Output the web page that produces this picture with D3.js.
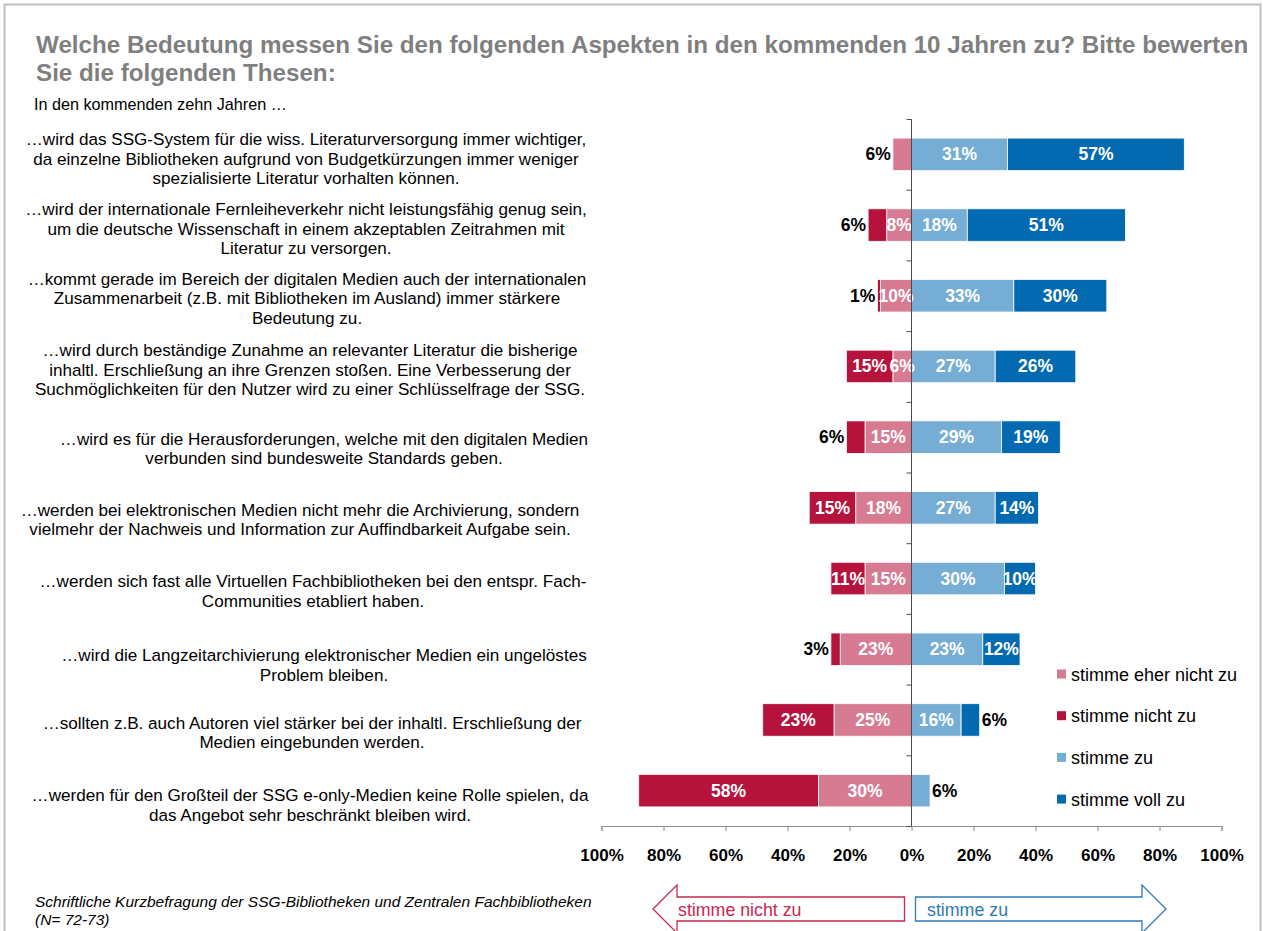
<!DOCTYPE html>
<html>
<head>
<meta charset="utf-8">
<script src="https://cdn.jsdelivr.net/npm/d3@7"></script>
<style>
  html, body { margin: 0; padding: 0; background: #fff; }
  svg { display: block; font-family: "Liberation Sans", Arial, sans-serif; }
</style>
</head>
<body>
<svg id="chart" width="1263" height="931"></svg>
<script>
// Statements, one entry per row (wrapped lines)
const categories = [
  ["…wird das SSG-System für die wiss. Literaturversorgung immer wichtiger,",
   "da einzelne Bibliotheken aufgrund von Budgetkürzungen immer weniger",
   "spezialisierte Literatur vorhalten können."],
  ["…wird der internationale Fernleiheverkehr nicht leistungsfähig genug sein,",
   "um die deutsche Wissenschaft in einem akzeptablen Zeitrahmen mit",
   "Literatur zu versorgen."],
  ["…kommt gerade im Bereich der digitalen Medien auch der internationalen",
   "Zusammenarbeit (z.B. mit Bibliotheken im Ausland) immer stärkere",
   "Bedeutung zu."],
  ["…wird durch beständige Zunahme an relevanter Literatur die bisherige",
   "inhaltl. Erschließung an ihre Grenzen stoßen. Eine Verbesserung der",
   "Suchmöglichkeiten für den Nutzer wird zu einer Schlüsselfrage der SSG."],
  ["…wird es für die Herausforderungen, welche mit den digitalen Medien",
   "verbunden sind bundesweite Standards geben."],
  ["…werden bei elektronischen Medien nicht mehr die Archivierung, sondern",
   "vielmehr der Nachweis und Information zur Auffindbarkeit Aufgabe sein."],
  ["…werden sich fast alle Virtuellen Fachbibliotheken bei den entspr. Fach-",
   "Communities etabliert haben."],
  ["…wird die Langzeitarchivierung elektronischer Medien ein ungelöstes",
   "Problem bleiben."],
  ["…sollten z.B. auch Autoren viel stärker bei der inhaltl. Erschließung der",
   "Medien eingebunden werden."],
  ["…werden für den Großteil der SSG e-only-Medien keine Rolle spielen, da",
   "das Angebot sehr beschränkt bleiben wird."]
];

// Shares in percent
const stimmeNichtZu     = [0, 6, 1, 15, 6, 15, 11, 3, 23, 58];
const stimmeEherNichtZu = [6, 8, 10, 6, 15, 18, 15, 23, 25, 30];
const stimmeZu          = [31, 18, 33, 27, 29, 27, 30, 23, 16, 6];
const stimmeVollZu      = [57, 51, 30, 26, 19, 14, 10, 12, 6, 0];

const xTickValues = [-100, -80, -60, -40, -20, 0, 20, 40, 60, 80, 100];
const legendNames = ["stimme eher nicht zu", "stimme nicht zu", "stimme zu", "stimme voll zu"];

const titleLines = [
  "Welche Bedeutung messen Sie den folgenden Aspekten in den kommenden 10 Jahren zu? Bitte bewerten",
  "Sie die folgenden Thesen:"
];
const subTitle = "In den kommenden zehn Jahren …";
const sourceLines = [
  "Schriftliche Kurzbefragung der SSG-Bibliotheken und Zentralen Fachbibliotheken",
  "(N= 72-73)"
];

const colors = {
  "stimme eher nicht zu": "#D77B93",
  "stimme nicht zu": "#B5133C",
  "stimme zu": "#75ADD5",
  "stimme voll zu": "#036AB1"
};

// text block layout for the statement column (centre x, vertical nudge)
const labelCenterX = [306, 306, 307, 310, 324, 300, 313, 324, 312, 310];
const labelNudge   = [5, 4, 3, 4, 12, 12, 13, 16, 13, 15];

const svg = d3.select("#chart");

// frame
svg.append("rect")
  .attr("x", 4.5).attr("y", 4.5)
  .attr("width", 1256).attr("height", 960)
  .attr("fill", "none").attr("stroke", "#c0c0c0").attr("stroke-width", 2);

// title
svg.append("g").selectAll("text").data(titleLines).join("text")
  .attr("x", 36).attr("y", (d, i) => 53 + i * 28)
  .attr("font-size", 24.2).attr("font-weight", "bold").attr("fill", "#7f7f7f")
  .text(d => d);

svg.append("text").attr("x", 34).attr("y", 110)
  .attr("font-size", 16.2).attr("fill", "#000").text(subTitle);

// scales
const x = d3.scaleLinear().domain([-100, 100]).range([601.5, 1221.5]);
const idx = d3.range(categories.length);
const y = d3.scaleBand().domain(idx).range([119, 826]).paddingInner(0.54).paddingOuter(0.27);
const yEdge = d3.scaleLinear().domain([0, categories.length]).range([119, 826]);

// segments, stacked outward from zero
const rows = idx.map(i => {
  const segs = [];
  const e = stimmeEherNichtZu[i], n = stimmeNichtZu[i];
  const z = stimmeZu[i], v = stimmeVollZu[i];
  segs.push({ key: "stimme eher nicht zu", v: e, x0: -e, x1: 0, outer: n === 0, side: -1 });
  segs.push({ key: "stimme nicht zu", v: n, x0: -(e + n), x1: -e, outer: true, side: -1 });
  segs.push({ key: "stimme zu", v: z, x0: 0, x1: z, outer: v === 0, side: 1 });
  segs.push({ key: "stimme voll zu", v: v, x0: z, x1: z + v, outer: true, side: 1 });
  return { i, segs: segs.filter(s => s.v > 0) };
});

const barG = svg.append("g");
const rowG = barG.selectAll("g.row").data(rows).join("g").attr("class", "row");

rowG.selectAll("rect").data(r => r.segs.map(s => ({ ...s, i: r.i }))).join("rect")
  .attr("x", d => x(d.x0))
  .attr("y", d => y(d.i))
  .attr("width", d => x(d.x1) - x(d.x0))
  .attr("height", y.bandwidth())
  .attr("fill", d => colors[d.key])
  .attr("stroke", "#fff").attr("stroke-width", 0.8);

// value labels: small outermost segments get their label outside the bar
rowG.selectAll("text").data(r => r.segs.map(s => ({ ...s, i: r.i }))).join("text")
  .each(function (d) {
    const t = d3.select(this);
    const outside = d.outer && d.v <= 6;
    const cy = y(d.i) + y.bandwidth() / 2 + 6;
    if (outside) {
      t.attr("x", d.side < 0 ? x(d.x0) - 2 : x(d.x1) + 2)
       .attr("text-anchor", d.side < 0 ? "end" : "start")
       .attr("fill", "#000");
    } else {
      t.attr("x", (x(d.x0) + x(d.x1)) / 2)
       .attr("text-anchor", "middle")
       .attr("fill", "#fff");
    }
    t.attr("y", cy);
  })
  .attr("font-size", 17.5).attr("font-weight", "bold")
  .text(d => d.v + "%");

// x axis
const xAxis = d3.axisBottom(x).tickValues(xTickValues).tickSize(5).tickFormat(d => Math.abs(d) + "%");
const xg = svg.append("g").attr("transform", "translate(0,826)").call(xAxis);
xg.select(".domain").attr("stroke", "#8c8c8c");
xg.selectAll(".tick line").attr("stroke", "#8c8c8c");
xg.selectAll(".tick text")
  .attr("font-family", "Liberation Sans, Arial, sans-serif")
  .attr("font-size", 17).attr("font-weight", "bold").attr("fill", "#000")
  .attr("dy", null).attr("y", 35);

// zero axis with row separators
const yAxis = d3.axisLeft(yEdge).tickValues(d3.range(categories.length + 1)).tickSize(5).tickFormat("");
const yg = svg.append("g").attr("transform", `translate(${x(0)},0)`).call(yAxis);
yg.select(".domain").attr("stroke", "#4d4d4d").attr("d", `M0,119V826`);
yg.selectAll(".tick line").attr("stroke", "#4d4d4d");

// statement labels
const labG = svg.append("g");
categories.forEach((lines, i) => {
  const cy = y(i) + y.bandwidth() / 2 + labelNudge[i];
  const lh = 19.5;
  const top = cy - (lines.length - 1) * lh / 2;
  labG.append("g").selectAll("text").data(lines).join("text")
    .attr("x", labelCenterX[i])
    .attr("y", (d, k) => top + k * lh + 5.5)
    .attr("text-anchor", "middle")
    .attr("font-size", 17.1).attr("fill", "#000")
    .text(d => d);
});

// legend
const lg = svg.append("g").selectAll("g").data(legendNames).join("g")
  .attr("transform", (d, i) => `translate(1057,${674 + i * 41.7})`);
lg.append("rect").attr("x", 0).attr("y", -4.5).attr("width", 9).attr("height", 9)
  .attr("fill", d => colors[d]);
lg.append("text").attr("x", 14).attr("y", 6.5)
  .attr("font-size", 18).attr("fill", "#000").text(d => d);

// source note
svg.append("g").selectAll("text").data(sourceLines).join("text")
  .attr("x", 35).attr("y", (d, i) => 907 + i * 18)
  .attr("font-size", 15.5).attr("font-style", "italic").attr("fill", "#000")
  .text(d => d);

// direction arrows beneath the axis
const arrowG = svg.append("g");
const ax0 = x(0);
arrowG.append("path")
  .attr("d", `M653,909 L677,885 L677,897 L${ax0 - 7},897 L${ax0 - 7},921 L677,921 L677,933 Z`)
  .attr("fill", "#fff").attr("stroke", "#C8284F").attr("stroke-width", 1.3);
arrowG.append("text").attr("x", 678).attr("y", 915.5)
  .attr("font-size", 17.8).attr("fill", "#C8284F").text("stimme nicht zu");
arrowG.append("path")
  .attr("d", `M${ax0 + 4},897 L1142,897 L1142,885 L1166,909 L1142,933 L1142,921 L${ax0 + 4},921 Z`)
  .attr("fill", "#fff").attr("stroke", "#2E78B8").attr("stroke-width", 1.3);
arrowG.append("text").attr("x", 927).attr("y", 915.5)
  .attr("font-size", 17.8).attr("fill", "#2E78B8").text("stimme zu");
</script>
</body>
</html>
